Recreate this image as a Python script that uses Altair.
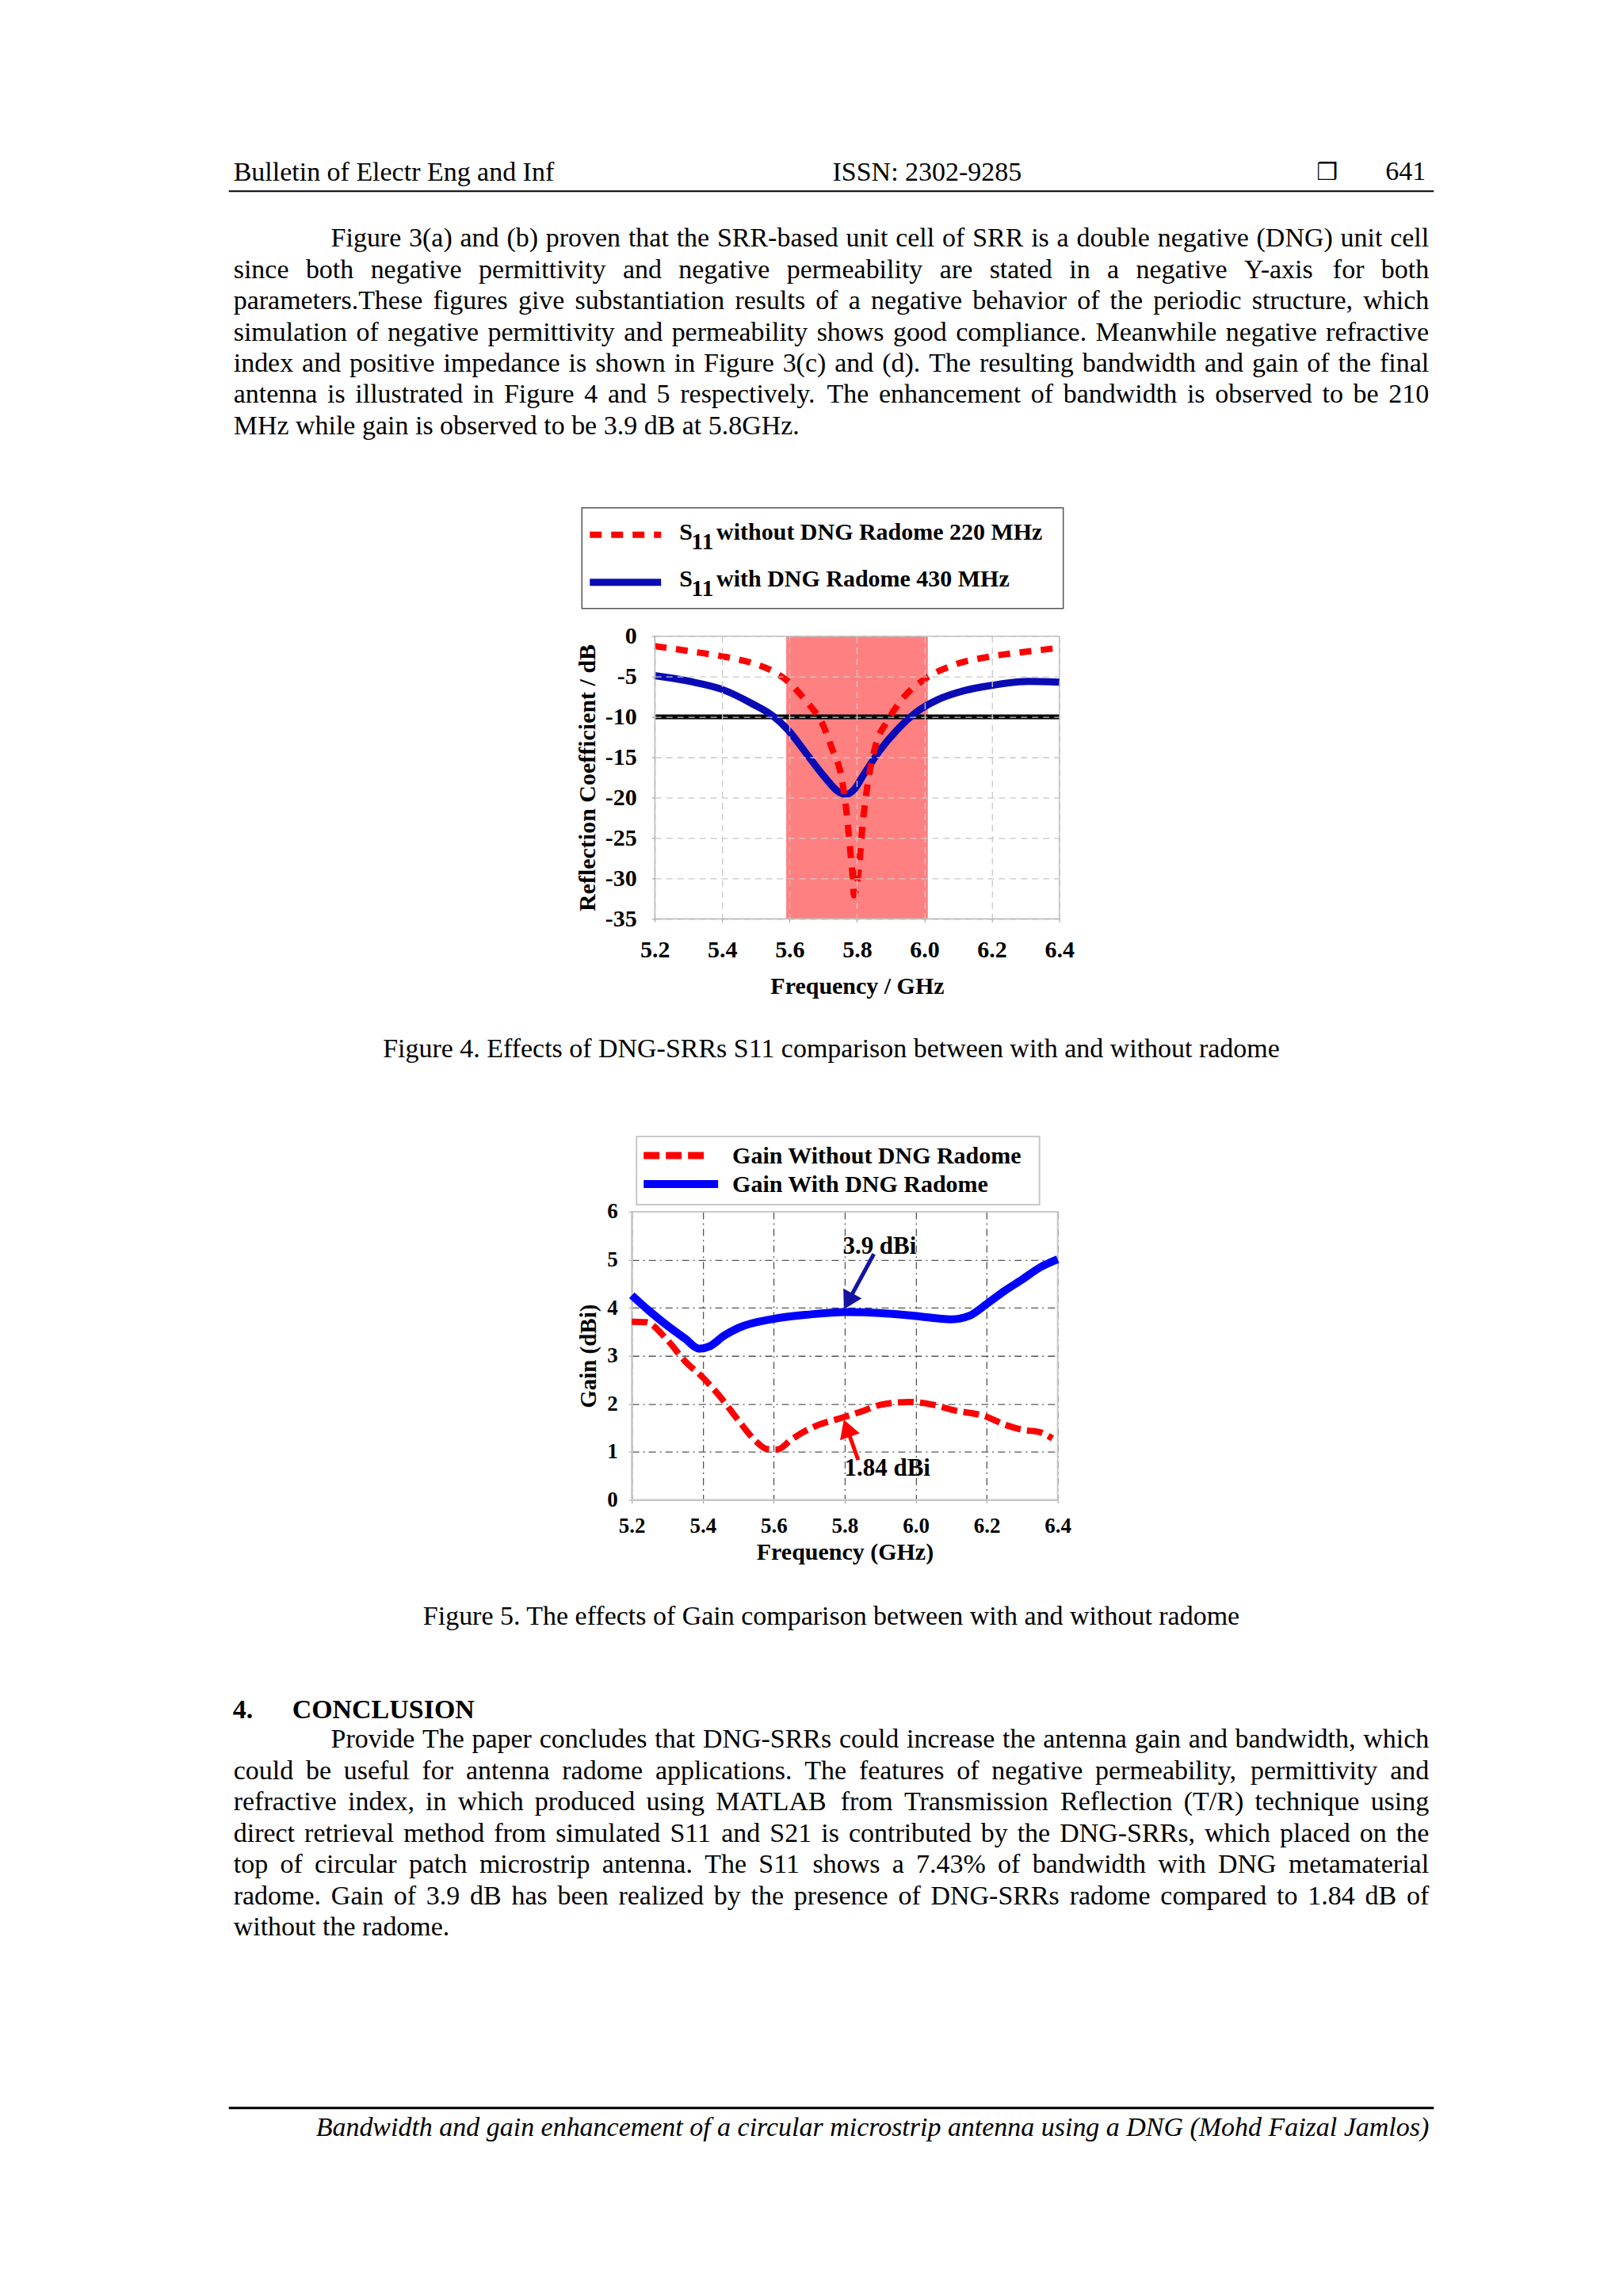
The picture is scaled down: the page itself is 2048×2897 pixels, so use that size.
import math
import altair as alt
import pandas as pd

SERIF = "Liberation Serif"

# ---------------- page text ----------------
header_left = "Bulletin of Electr Eng and Inf"
header_center = "ISSN: 2302-9285"
header_box = "\u2752"
header_page = "641"

para1_lines = [
    "Figure 3(a) and (b) proven that the SRR-based unit cell of SRR is a double negative (DNG) unit cell",
    "since both negative permittivity and negative permeability are stated in a negative Y-axis for both",
    "parameters.These figures give substantiation results of a negative behavior of the periodic structure, which",
    "simulation of negative permittivity and permeability shows good compliance. Meanwhile negative refractive",
    "index and positive impedance is shown in Figure 3(c) and (d). The resulting bandwidth and gain of the final",
    "antenna is illustrated in Figure 4 and 5 respectively. The enhancement of bandwidth is observed to be 210",
    "MHz while gain is observed to be 3.9 dB at 5.8GHz.",
]
caption4 = "Figure 4. Effects of DNG-SRRs S11 comparison between with and without radome"
caption5 = "Figure 5. The effects of Gain comparison between with and without radome"
heading_num = "4."
heading_txt = "CONCLUSION"
concl_lines = [
    "Provide The paper concludes that DNG-SRRs could increase the antenna gain and bandwidth, which",
    "could be useful for antenna radome applications. The features of negative permeability, permittivity and",
    "refractive index, in which produced using MATLAB from Transmission Reflection (T/R) technique using",
    "direct retrieval method from simulated S11 and S21 is contributed by the DNG-SRRs, which placed on the",
    "top of circular patch microstrip antenna. The S11 shows a 7.43% of bandwidth with DNG metamaterial",
    "radome. Gain of 3.9 dB has been realized by the presence of DNG-SRRs radome compared to 1.84 dB of",
    "without the radome.",
]
footer_txt = "Bandwidth and gain enhancement of a circular microstrip antenna using a DNG (Mohd Faizal Jamlos)"

# ---------------- Figure 4 data ----------------
f4_freq_wo = [5.2, 5.303, 5.4, 5.486, 5.551, 5.595, 5.638, 5.67, 5.692, 5.724, 5.757, 5.768,
              5.778, 5.787, 5.791, 5.805, 5.816, 5.832, 5.854, 5.892, 5.94, 6.005, 6.092,
              6.2, 6.308, 6.4]
f4_s11_wo = [-1.24, -1.86, -2.5, -3.3, -4.35, -5.6, -7.5, -9.1, -10.4, -13.7, -18.2, -21.5,
             -25.7, -29.8, -32.1, -29.0, -23.6, -18.2, -13.7, -10.4, -7.5, -5.2, -3.5,
             -2.5, -1.9, -1.45]
f4_freq_w = [5.2, 5.303, 5.4, 5.486, 5.551, 5.595, 5.649, 5.703, 5.746, 5.768, 5.789, 5.822,
             5.865, 5.919, 5.973, 6.038, 6.114, 6.2, 6.308, 6.4]
f4_s11_w = [-4.9, -5.6, -6.6, -8.3, -9.9, -11.6, -14.5, -17.4, -19.3, -19.6, -19.1, -17.0,
            -14.3, -11.6, -9.5, -7.9, -6.8, -6.1, -5.6, -5.7]
f4_band = [5.59, 6.01]
f4_threshold = [-10]
f4_xticks = [5.2, 5.4, 5.6, 5.8, 6.0, 6.2, 6.4]
f4_yticks = [-35, -30, -25, -20, -15, -10, -5, 0]
f4_legend = ["without DNG Radome 220 MHz", "with DNG Radome 430 MHz"]

# ---------------- Figure 5 data ----------------
f5_freq_w = [5.2, 5.25, 5.3, 5.35, 5.39, 5.42, 5.46, 5.5, 5.6, 5.7, 5.8, 5.9, 6.0, 6.1,
             6.15, 6.2, 6.25, 6.3, 6.35, 6.4]
f5_gain_w = [4.26, 3.93, 3.63, 3.36, 3.15, 3.2, 3.42, 3.58, 3.77, 3.86, 3.91, 3.89, 3.83,
             3.76, 3.83, 4.08, 4.35, 4.59, 4.84, 5.01]
f5_freq_wo = [5.2, 5.24, 5.3, 5.35, 5.4, 5.45, 5.5, 5.55, 5.58, 5.61, 5.65, 5.7, 5.8, 5.85,
              5.9, 5.98, 6.05, 6.1, 6.2, 6.25, 6.3, 6.35, 6.385]
f5_gain_wo = [3.71, 3.70, 3.33, 2.89, 2.55, 2.14, 1.66, 1.22, 1.06, 1.05, 1.26, 1.48, 1.73,
              1.85, 1.98, 2.04, 1.98, 1.88, 1.73, 1.57, 1.46, 1.41, 1.28]
f5_xticks = [5.2, 5.4, 5.6, 5.8, 6.0, 6.2, 6.4]
f5_yticks = [0, 1, 2, 3, 4, 5, 6]
f5_legend = ["Gain Without DNG Radome", "Gain With DNG Radome"]
f5_notes = ["3.9 dBi", "1.84 dBi"]
f5_note_f = [5.898, 5.92]
f5_note_g = [5.27, 0.66]
f5_arrow_tail_f = [5.882, 5.838]
f5_arrow_tail_g = [5.12, 0.83]
f5_arrow_tip_f = [5.797, 5.797]
f5_arrow_tip_g = [3.96, 1.68]

# ---------------- text layout helpers ----------------
TW = {' ': 250, '!': 333, '"': 408, '%': 833, '&': 778, "'": 333, '(': 333, ')': 333,
      ',': 250, '-': 333, '.': 250, '/': 278, ':': 278, ';': 278, '?': 444,
      'A': 722, 'B': 667, 'C': 667, 'D': 722, 'E': 611, 'F': 556, 'G': 722, 'H': 722,
      'I': 333, 'J': 389, 'K': 722, 'L': 611, 'M': 889, 'N': 722, 'O': 722, 'P': 556,
      'Q': 722, 'R': 667, 'S': 556, 'T': 611, 'U': 722, 'V': 722, 'W': 944, 'X': 722,
      'Y': 722, 'Z': 611, 'a': 444, 'b': 500, 'c': 444, 'd': 500, 'e': 444, 'f': 333,
      'g': 500, 'h': 500, 'i': 278, 'j': 278, 'k': 500, 'l': 278, 'm': 778, 'n': 500,
      'o': 500, 'p': 500, 'q': 500, 'r': 333, 's': 389, 't': 278, 'u': 500, 'v': 500,
      'w': 722, 'x': 500, 'y': 500, 'z': 444}
for d in "0123456789":
    TW[d] = 500


def tw(s, size):
    return sum(TW.get(c, 500) for c in s) * size / 1000.0


def justify(lines, indent_x, left, right, base0, step, size):
    rows = []
    for i, line in enumerate(lines):
        words = line.split(' ')
        x0 = indent_x if i == 0 else left
        y = base0 + i * step
        widths = [tw(w, size) for w in words]
        if i == len(lines) - 1 or len(words) == 1:
            gap = tw(' ', size)
        else:
            gap = (right - x0 - sum(widths)) / (len(words) - 1)
        x = x0
        for w, wd in zip(words, widths):
            rows.append({'t': w, 'x': x, 'y': y})
            x += wd + gap
    return pd.DataFrame(rows)


def words_layer(df, size):
    return alt.Chart(df).mark_text(
        align='left', baseline='alphabetic', font=SERIF, fontSize=size, color='black'
    ).encode(
        x=alt.X('x:Q', scale=None, axis=None),
        y=alt.Y('y:Q', scale=None, axis=None),
        text='t:N',
    )


def txt(s, x, y, size, weight='normal', align='left', font=SERIF, style='normal',
        color='black'):
    return alt.Chart(pd.DataFrame({'t': [s]})).mark_text(
        align=align, baseline='alphabetic', font=font, fontSize=size,
        fontWeight=weight, fontStyle=style, color=color
    ).encode(x=alt.value(x), y=alt.value(y), text='t:N')


def hrule(x1, x2, y, w, color='black', dash=None, cap='butt'):
    kw = dict(color=color, strokeWidth=w, strokeCap=cap)
    if dash:
        kw['strokeDash'] = dash
    return alt.Chart(pd.DataFrame({'a': [0]})).mark_rule(**kw).encode(
        x=alt.value(x1), x2=alt.value(x2), y=alt.value(y))


def box(x1, x2, y1, y2, stroke, w):
    return alt.Chart(pd.DataFrame({'a': [0]})).mark_rect(
        fill='white', stroke=stroke, strokeWidth=w
    ).encode(x=alt.value(x1), x2=alt.value(x2), y=alt.value(y1), y2=alt.value(y2))


BODY = 34
OX = 8  # chart origin in page pixels

# ---------------- row 1 : header + paragraph ----------------
R1Y = 8
p1 = justify(para1_lines, 417 - OX, 294 - OX, 1804 - OX, 309 - R1Y, 39.5, BODY)
row1 = alt.layer(
    txt(header_left, 294 - OX, 226 - R1Y, BODY),
    txt(header_center, 1170 - OX, 226 - R1Y, BODY, align='center'),
    txt(header_box, 1662 - OX, 225 - R1Y, 30, font='DejaVu Sans'),
    txt(header_page, 1800 - OX, 225 - R1Y, BODY, align='right'),
    hrule(288 - OX, 1810 - OX, 239 - R1Y, 2),
    words_layer(p1, BODY),
).properties(width=2032, height=793)

# ---------------- row 2 : Figure 4 (plot area placed by the scale range) ----------------
L4X, L4Y = 826, 801
F4W, F4H = 511, 357
X4A = L4X - OX
x4s = alt.Scale(domain=[5.2, 6.4], range=[X4A, X4A + F4W], nice=False, zero=False)
y4s = alt.Scale(domain=[-35, 0], nice=False, zero=False)
ax4x = alt.Axis(values=f4_xticks, format='.1f', labelFont=SERIF, labelFontSize=30,
                labelFontWeight='bold', labelColor='black', labelPadding=20,
                labelFlush=False, labelOverlap=False, tickSize=4, tickColor='#999999',
                domainColor='#bbbbbb', grid=True, gridColor='#c8c8c8', gridDash=[8, 6],
                gridWidth=1.3, title='Frequency / GHz', titleFont=SERIF,
                titleFontSize=30, titleFontWeight='bold', titleColor='black',
                titlePadding=16, zindex=1)
ax4y = alt.Axis(values=f4_yticks, labelExpr="toString(datum.value)", labelFont=SERIF,
                labelFontSize=30, labelFontWeight='bold', labelColor='black',
                labelPadding=19, labelOverlap=False, tickSize=4, tickColor='#999999',
                domainColor='#bbbbbb', grid=True, gridColor='#c8c8c8', gridDash=[8, 6],
                gridWidth=1.3, title='Reflection Coefficient / dB', titleFont=SERIF,
                titleFontSize=30, titleFontWeight='bold', titleColor='black',
                titlePadding=7, zindex=1, offset=-X4A)

band4 = alt.Chart(pd.DataFrame({'f': [f4_band[0]], 'f2': [f4_band[1]],
                                'v': [-35], 'v2': [0]})).mark_rect(color='#FF8080').encode(
    x=alt.X('f:Q', scale=x4s, axis=ax4x), x2='f2:Q',
    y=alt.Y('v:Q', scale=y4s, axis=ax4y), y2='v2:Q')
border4 = alt.Chart(pd.DataFrame({'f': [5.2], 'f2': [6.4], 'v': [-35], 'v2': [0]})).mark_rect(
    fillOpacity=0, stroke='#c0c0c0', strokeWidth=1.5).encode(
    x=alt.X('f:Q', scale=x4s, axis=ax4x), x2='f2:Q',
    y=alt.Y('v:Q', scale=y4s, axis=ax4y), y2='v2:Q')
thr4 = alt.Chart(pd.DataFrame({'v': f4_threshold, 'f': [5.2], 'f2': [6.4]})).mark_rule(
    color='black', strokeWidth=6).encode(
    x=alt.X('f:Q', scale=x4s, axis=ax4x), x2='f2:Q',
    y=alt.Y('v:Q', scale=y4s, axis=ax4y))
red4 = alt.Chart(pd.DataFrame({'f': f4_freq_wo, 'v': f4_s11_wo})).mark_line(
    color='#FF0000', strokeWidth=8, strokeDash=[15, 12], interpolate='monotone').encode(
    x=alt.X('f:Q', scale=x4s, axis=ax4x), y=alt.Y('v:Q', scale=y4s, axis=ax4y),
    order='f:Q')
blue4 = alt.Chart(pd.DataFrame({'f': f4_freq_w, 'v': f4_s11_w})).mark_line(
    color='#0B0BB5', strokeWidth=9, interpolate='monotone').encode(
    x=alt.X('f:Q', scale=x4s, axis=ax4x), y=alt.Y('v:Q', scale=y4s, axis=ax4y),
    order='f:Q')

fig4 = alt.layer(
    band4, border4, thr4, blue4, red4,
    box(734 - OX, 1342 - OX, 639 - L4Y, 766 - L4Y, '#555555', 1.5),
    hrule(744 - OX, 834 - OX, 673 - L4Y, 8, color='#FF0000', dash=[15, 12]),
    hrule(744 - OX, 834 - OX, 733 - L4Y, 9, color='#0B0BB5'),
    txt("S", 857 - OX, 679 - L4Y, 30, weight='bold'),
    txt("11", 872 - OX, 691 - L4Y, 30, weight='bold'),
    txt(f4_legend[0], 904 - OX, 679 - L4Y, 30, weight='bold'),
    txt("S", 857 - OX, 738 - L4Y, 30, weight='bold'),
    txt("11", 872 - OX, 750 - L4Y, 30, weight='bold'),
    txt(f4_legend[1], 904 - OX, 738 - L4Y, 30, weight='bold'),
).properties(width=X4A + F4W, height=F4H)

# ---------------- row 3 : caption 4 ----------------
R3Y = L4Y + F4H
L5X, L5Y = 797, 1528
row3 = alt.layer(
    txt(caption4, 1049 - OX, 1333 - R3Y, BODY, align='center'),
).properties(width=2032, height=L5Y - R3Y)

# ---------------- row 4 : Figure 5 ----------------
F5W, F5H = 538, 364
X5A = L5X - OX
PX5 = F5W / 1.2
PY5 = F5H / 6.0
x5s = alt.Scale(domain=[5.2, 6.4], range=[X5A, X5A + F5W], nice=False, zero=False)
y5s = alt.Scale(domain=[0, 6], nice=False, zero=False)
ax5x = alt.Axis(values=f5_xticks, format='.1f', labelFont=SERIF, labelFontSize=27,
                labelFontWeight='bold', labelColor='black', labelPadding=16,
                labelFlush=False, labelOverlap=False, tickSize=4, tickColor='#999999',
                domainColor='#c0c0c0', domainWidth=2, grid=True, gridColor='#555555',
                gridDash=[9, 5, 2, 5], gridWidth=1.3, title='Frequency (GHz)',
                titleFont=SERIF, titleFontSize=30, titleFontWeight='bold',
                titleColor='black', titlePadding=5)
ax5y = alt.Axis(values=f5_yticks, format='d', labelFont=SERIF, labelFontSize=27,
                labelFontWeight='bold', labelColor='black', labelPadding=14,
                labelOverlap=False, tickSize=4, tickColor='#999999',
                domainColor='#c0c0c0', domainWidth=2, grid=True, gridColor='#555555',
                gridDash=[9, 5, 2, 5], gridWidth=1.3, title='Gain (dBi)', titleFont=SERIF,
                titleFontSize=29, titleFontWeight='bold', titleColor='black',
                titlePadding=8, offset=-X5A)

border5 = alt.Chart(pd.DataFrame({'f': [5.2], 'f2': [6.4], 'g': [0], 'g2': [6]})).mark_rect(
    fillOpacity=0, stroke='#c8c8c8', strokeWidth=2).encode(
    x=alt.X('f:Q', scale=x5s, axis=ax5x), x2='f2:Q',
    y=alt.Y('g:Q', scale=y5s, axis=ax5y), y2='g2:Q')
red5 = alt.Chart(pd.DataFrame({'f': f5_freq_wo, 'g': f5_gain_wo})).mark_line(
    color='#FF0000', strokeWidth=8, strokeDash=[20, 8], interpolate='monotone').encode(
    x=alt.X('f:Q', scale=x5s, axis=ax5x), y=alt.Y('g:Q', scale=y5s, axis=ax5y),
    order='f:Q')
blue5 = alt.Chart(pd.DataFrame({'f': f5_freq_w, 'g': f5_gain_w})).mark_line(
    color='#0000FF', strokeWidth=10, interpolate='monotone').encode(
    x=alt.X('f:Q', scale=x5s, axis=ax5x), y=alt.Y('g:Q', scale=y5s, axis=ax5y),
    order='f:Q')

arrow_colors = ['#1414A0', '#FF0000']
arrow_layers = []
for i in range(2):
    dx = (f5_arrow_tip_f[i] - f5_arrow_tail_f[i]) * PX5
    dy = -(f5_arrow_tip_g[i] - f5_arrow_tail_g[i]) * PY5
    L = math.hypot(dx, dy)
    ux, uy = dx / L, dy / L
    ang = math.degrees(math.atan2(ux, -uy)) % 360
    r = 12.0
    cf = f5_arrow_tip_f[i] - r * ux / PX5
    cg = f5_arrow_tip_g[i] + r * uy / PY5
    arrow_layers.append(
        alt.Chart(pd.DataFrame({'f': [f5_arrow_tail_f[i]], 'g': [f5_arrow_tail_g[i]],
                                'f2': [cf], 'g2': [cg]})).mark_rule(
            color=arrow_colors[i], strokeWidth=5).encode(
            x=alt.X('f:Q', scale=x5s, axis=ax5x), y=alt.Y('g:Q', scale=y5s, axis=ax5y),
            x2='f2:Q', y2='g2:Q'))
    arrow_layers.append(
        alt.Chart(pd.DataFrame({'f': [cf], 'g': [cg]})).mark_point(
            shape='triangle-up', filled=True, size=700, opacity=1,
            color=arrow_colors[i], angle=ang).encode(
            x=alt.X('f:Q', scale=x5s, axis=ax5x), y=alt.Y('g:Q', scale=y5s, axis=ax5y)))

notes5 = alt.Chart(pd.DataFrame({'f': f5_note_f, 'g': f5_note_g, 't': f5_notes})).mark_text(
    font=SERIF, fontSize=31, fontWeight='bold', color='black', align='center',
    baseline='middle').encode(
    x=alt.X('f:Q', scale=x5s, axis=ax5x), y=alt.Y('g:Q', scale=y5s, axis=ax5y),
    text='t:N')

fig5 = alt.layer(
    border5, red5, blue5, *arrow_layers, notes5,
    box(803 - OX, 1312 - OX, 1433 - L5Y, 1519 - L5Y, '#c8c8c8', 2),
    hrule(812 - OX, 892 - OX, 1457 - L5Y, 9, color='#FF0000', dash=[20, 8]),
    hrule(812 - OX, 906 - OX, 1493 - L5Y, 10, color='#0000FF'),
    txt(f5_legend[0], 924 - OX, 1467 - L5Y, 30, weight='bold'),
    txt(f5_legend[1], 924 - OX, 1503 - L5Y, 30, weight='bold'),
).properties(width=X5A + F5W, height=F5H)

# ---------------- row 5 : caption 5, conclusion, footer ----------------
R5Y = L5Y + F5H
p2 = justify(concl_lines, 417 - OX, 294 - OX, 1804 - OX, 2205 - R5Y, 39.5, BODY)
row5 = alt.layer(
    txt(caption5, 1049 - OX, 2050 - R5Y, BODY, align='center'),
    txt(heading_num, 293 - OX, 2168 - R5Y, BODY, weight='bold'),
    txt(heading_txt, 368 - OX, 2168 - R5Y, BODY, weight='bold'),
    words_layer(p2, BODY),
    hrule(288 - OX, 1810 - OX, 2660 - R5Y, 3),
    txt(footer_txt, 1804 - OX, 2695 - R5Y, BODY, style='italic', align='right'),
).properties(width=2032, height=2885 - R5Y)

chart = alt.vconcat(row1, fig4, row3, fig5, row5, spacing=0, bounds='flush').properties(
    padding=0, background='white'
).configure_view(stroke='transparent')

chart.save("out.html", embed_options={"renderer": "svg", "actions": False})
